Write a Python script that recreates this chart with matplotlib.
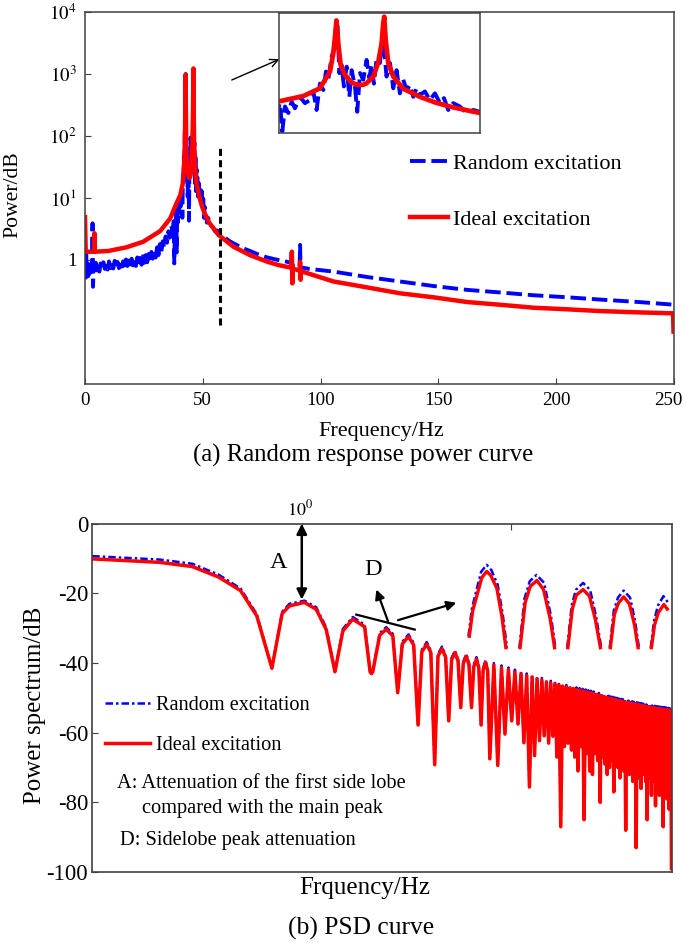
import numpy as np
import matplotlib
matplotlib.use('Agg')
import matplotlib.pyplot as plt
import matplotlib.transforms as mtransforms
from matplotlib.ticker import NullLocator

plt.rcParams['font.family'] = ['Liberation Serif', 'DejaVu Serif']
plt.rcParams['mathtext.fontset'] = 'stix'

# ===================== (a) Random response power curve =====================
ideal_freq = [0.0, 0.3, 3.9, 4.0, 4.1, 10.0, 17.5, 24.7, 31.9, 36.2, 38.7, 40.4, 41.55, 42.25,
              42.48, 42.6, 42.7, 42.83, 42.99, 43.29, 43.76, 44.22, 44.57, 44.8, 45.27, 45.6,
              45.85, 45.96, 46.03, 46.13, 46.31, 46.66, 47.35, 48.51, 49.67, 50.83, 52.7, 56.7,
              63.0, 70.0, 77.3, 82.0, 87.6, 87.8, 88.0, 88.2, 91.1, 91.3, 91.5, 91.7, 105.5,
              120.0, 133.8, 148.0, 162.1, 176.0, 190.4, 205.0, 218.7, 235.0, 249.6, 249.8]
ideal_power = [4.9, 1.36, 1.36, 2.7, 1.36, 1.40, 1.6, 1.97, 2.93, 4.7, 8.0, 11.0, 17.4, 47.0,
               138.0, 370.0, 980.0, 250.0, 70.0, 38.0, 24.5, 21.0, 21.5, 23.5, 35.0, 78.0,
               250.0, 830.0, 1230.0, 310.0, 78.0, 35.0, 17.0, 10.5, 7.3, 5.6, 4.0, 2.53,
               1.64, 1.2, 0.94, 0.83, 0.75, 1.36, 0.42, 0.73, 0.67, 0.94, 0.48, 0.66, 0.45,
               0.36, 0.29, 0.25, 0.21, 0.19, 0.17, 0.16, 0.15, 0.143, 0.138, 0.07]

random_freq = [0.0, 0.2, 0.5, 0.8, 1.1, 1.4, 1.8, 2.2, 2.6, 3.0, 3.2, 3.4, 3.7, 4.1, 4.6, 5.1,
               5.6, 6.1, 6.6, 7.2, 7.8, 8.4, 9.0, 9.6, 10.2, 10.8, 11.4, 12.0, 12.6, 13.2, 13.8,
               14.4, 15.0, 15.6, 16.2, 16.8, 17.4, 18.0, 18.6, 19.2, 19.8, 20.4, 21.0, 21.6,
               22.2, 22.8, 23.4, 24.0, 24.6, 25.2, 25.8, 26.4, 27.0, 27.6, 28.2, 28.8, 29.4,
               30.0, 30.6, 31.2, 31.8, 32.4, 33.0, 33.6, 34.2, 34.8, 35.4, 36.0, 36.6, 37.2,
               37.6, 37.9, 38.2, 38.5, 38.77, 38.93, 39.12, 39.35, 39.58, 39.81, 40.16, 40.51,
               40.86, 41.09, 41.32, 41.55, 41.79, 41.97, 42.13, 42.37, 42.6, 42.76, 42.9, 43.06,
               43.22, 43.41, 43.6, 43.76, 43.99, 44.15, 44.34, 44.57, 44.8, 44.99, 45.15, 45.31,
               45.5, 45.73, 45.92, 46.19, 46.43, 46.66, 46.89, 47.12, 47.35, 47.59, 47.82,
               48.05, 48.28, 48.51, 48.86, 49.21, 49.56, 49.91, 50.19, 50.49, 50.83, 51.3,
               51.76, 52.23, 52.69, 53.5, 54.3, 55.2, 56.1, 57.0, 58.0, 59.0, 60.0, 61.5, 63.0,
               65.0, 67.0, 70.0, 73.0, 77.3, 81.0, 85.0, 87.6, 87.8, 88.0, 88.2, 91.1, 91.3,
               91.5, 91.7, 95.0, 105.5, 120.0, 133.8, 148.0, 162.1, 176.0, 190.4, 205.0,
               218.7, 235.0, 250.0]
random_power = [1.0, 0.47, 1.3, 0.6, 0.95, 0.55, 0.85, 0.62, 0.9, 0.7, 3.9, 0.37, 0.85, 0.62,
                0.9, 0.68, 0.82, 0.65, 0.88, 0.7, 0.92, 0.72, 0.86, 0.7, 0.95, 0.74, 0.9, 0.73,
                0.97, 0.76, 0.93, 0.74, 1.0, 0.78, 0.95, 0.76, 1.02, 0.8, 0.98, 0.78, 1.05,
                0.82, 1.02, 0.8, 1.1, 0.86, 1.08, 0.84, 1.15, 0.9, 1.2, 0.92, 1.25, 0.98, 1.35,
                1.05, 1.45, 1.1, 1.6, 1.2, 1.8, 1.35, 2.0, 1.6, 2.4, 1.9, 2.9, 2.3, 3.6, 2.9,
                4.2, 0.88, 4.5, 3.6, 7.2, 1.33, 5.9, 4.0, 7.9, 5.3, 10.5, 7.2, 8.7, 14.4, 4.8,
                23.0, 15.7, 47.0, 29.0, 115.0, 210.0, 1000.0, 43.0, 70.0, 19.5, 63.0, 10.5,
                51.0, 19.5, 4.3, 43.0, 29.0, 94.0, 32.0, 70.0, 23.0, 104.0, 78.0, 450.0, 35.0,
                78.0, 17.4, 51.0, 12.9, 29.0, 15.7, 21.0, 10.5, 17.4, 11.7, 14.4, 8.7, 12.9,
                7.2, 9.7, 4.8, 7.2, 5.9, 4.0, 4.8, 4.3, 3.6, 3.4, 2.9, 3.0, 2.7, 2.5, 2.3, 2.2,
                2.0, 1.86, 1.7, 1.55, 1.4, 1.25, 1.1, 1.02, 0.95, 0.9, 1.41, 0.54, 0.88, 0.8,
                1.75, 0.69, 0.76, 0.72, 0.65, 0.53, 0.45, 0.38, 0.33, 0.3, 0.27, 0.25, 0.23,
                0.21, 0.19]

cutoff_freq = 57.1
cutoff_power = [0.089, 66.0]
zoom_freq = [38.7, 52.7]
zoom_power = [1.2, 1500.0]
pointer_start = (62.3, 800.0)
pointer_end = (82.5, 1730.0)

a_xticks = [0, 50, 100, 150, 200, 250]
a_yticks = [1, 10, 100, 1000, 10000]
a_yticklabels = ['1', '$10^1$', '$10^2$', '$10^3$', '$10^4$']

# ===================== (b) PSD curve =====================
main_lobe_freq = [0.1, 0.21, 0.30, 0.40, 0.51, 0.61]
main_lobe_ideal = [-10.1, -11.1, -12.3, -15.3, -19.2, -26.5]
main_lobe_random = [-9.3, -10.3, -11.5, -14.6, -18.6, -26.0]

null_freq = [0.72, 1.44, 2.15, 2.87, 3.59, 4.31, 5.03, 5.74, 6.46, 7.18, 7.90, 8.62, 9.33,
             10.05, 10.77, 11.49, 12.21, 12.92, 13.64, 14.36, 15.08, 15.80, 16.51, 17.23,
             17.95, 18.67, 19.39, 20.10, 20.82, 21.54, 22.26, 22.98, 23.69, 24.41, 25.13,
             25.85, 26.57, 27.28, 28.00, 28.72, 29.44, 30.16, 30.87, 31.59, 32.31, 33.03,
             33.75, 34.46, 35.18, 35.90, 36.62, 37.34, 38.05, 38.77, 39.49, 40.21, 40.93,
             41.64, 42.36, 43.08, 43.80, 44.52, 45.23, 45.95, 46.67, 47.39, 48.11, 48.82,
             49.54, 50.26, 50.98, 51.70, 52.41, 53.13, 53.85, 54.57, 55.29, 56.00, 56.72,
             57.44, 58.16]
null_db = [-41.5, -42.5, -43.0, -48.5, -57.8, -69.2, -56.6, -52.8, -52.8, -57.8, -67.5, -69.4,
           -60.4, -56.6, -57.5, -62.9, -75.6, -66.6, -62.3, -60.9, -63.0, -61.0, -67.0, -87.0,
           -64.0, -63.0, -65.0, -67.0, -71.0, -64.0, -85.0, -66.0, -71.0, -72.0, -66.0, -68.0,
           -80.0, -67.0, -69.0, -72.0, -70.0, -68.0, -77.0, -69.0, -70.0, -73.0, -68.0, -71.0,
           -88.0, -70.0, -72.0, -69.0, -74.0, -71.0, -93.0, -70.0, -73.0, -76.0, -71.0, -72.0,
           -74.0, -85.0, -71.0, -73.0, -78.0, -72.0, -74.0, -81.0, -72.0, -75.0, -78.0, -73.0,
           -74.0, -87.0, -73.0, -76.0, -79.0, -74.0, -82.0, -75.0, -99.0]

peak_freq = [1.03, 1.75, 2.53, 3.23, 3.95, 4.67, 5.39, 6.10, 6.82, 7.54, 8.26, 8.98, 9.69,
             10.41, 11.13, 11.85, 12.57, 13.28, 14.00, 14.72, 15.44, 16.16, 16.87, 17.59,
             18.31, 19.03, 19.75, 20.46, 21.18, 21.90, 22.62, 23.34, 24.05, 24.77, 25.49,
             26.21, 26.93, 27.64, 28.36, 29.08, 29.80, 30.52, 31.23, 31.95, 32.67, 33.39,
             34.11, 34.82, 35.54, 36.26, 36.98, 37.70, 38.41, 39.13, 39.85, 40.57, 41.29,
             42.00, 42.72, 43.44, 44.16, 44.88, 45.59, 46.31, 47.03, 47.75, 48.47, 49.18,
             49.90, 50.62, 51.34, 52.06, 52.77, 53.49, 54.21, 54.93, 55.65, 56.36, 57.08, 57.80]
peak_ideal = [-22.6, -27.4, -30.3, -32.4, -34.6, -35.9, -37.0, -38.0, -38.9, -39.8, -40.6,
              -41.3, -41.9, -42.5, -43.1, -43.6, -44.0, -44.5, -44.9, -45.4, -45.7, -46.0,
              -46.3, -46.6, -46.9, -47.1, -47.3, -47.6, -47.8, -48.0, -48.2, -48.4, -48.6,
              -48.8, -49.0, -49.2, -49.4, -49.6, -49.8, -50.0, -50.2, -50.3, -50.5, -50.6,
              -50.8, -50.9, -51.0, -51.2, -51.3, -51.4, -51.5, -51.6, -51.7, -51.8, -51.9,
              -52.0, -52.1, -52.2, -52.3, -52.4, -52.5, -52.6, -52.6, -52.7, -52.8, -52.9,
              -52.9, -53.0, -53.1, -53.1, -53.2, -53.2, -53.3, -53.3, -53.4, -53.4, -53.5,
              -53.5, -53.6, -53.6]
peak_random = [-22.1, -26.8, -29.7, -31.8, -34.0, -35.3, -36.4, -37.4, -38.3, -39.2, -40.0,
               -40.7, -41.3, -41.9, -42.5, -43.0, -43.4, -43.9, -44.3, -44.8, -45.1, -45.4,
               -45.7, -46.0, -46.3, -46.5, -46.7, -47.0, -47.2, -47.4, -47.6, -47.8, -48.0,
               -48.2, -48.4, -48.6, -48.8, -49.0, -49.2, -49.4, -49.6, -49.7, -49.9, -50.0,
               -50.2, -50.3, -50.4, -50.6, -50.7, -50.8, -50.9, -51.0, -51.1, -51.2, -51.3,
               -51.4, -51.5, -51.6, -51.7, -51.8, -51.9, -52.0, -52.0, -52.1, -52.2, -52.3,
               -52.3, -52.4, -52.5, -52.5, -52.6, -52.6, -52.7, -52.7, -52.8, -52.8, -52.9,
               -52.9, -53.0, -53.0]

shoulder_freq = [0.806, 0.873, 1.172, 1.308, 1.571, 1.995, 2.12, 2.18, 2.356, 2.72, 3.02,
                 3.42, 3.74, 4.13, 4.47, 4.86, 5.19, 5.57, 5.90, 6.28, 6.62, 7.00, 7.34, 7.72]
shoulder_ideal = [-25.8, -23.6, -24.6, -30.4, -30.8, -29.6, -42.6, -42.6, -32.0, -32.2, -34.5,
                  -34.8, -36.8, -37.0, -38.0, -38.3, -39.1, -39.4, -40.2, -40.5, -41.1, -41.4,
                  -42.0, -42.3]
shoulder_random = [-25.3, -23.0, -24.0, -29.8, -30.2, -29.0, -42.4, -42.4, -31.4, -31.6,
                   -33.9, -34.2, -36.2, -36.4, -37.4, -37.7, -38.5, -38.8, -39.6, -39.9,
                   -40.5, -40.8, -41.4, -41.7]

# zoomed sidelobes drawn in the upper right of (b) (zoom-axis units)
zlobe_ideal_x = [[4.4, 6.0, 7.9, 10.3, 12.6, 14.5, 17.4, 19.8, 21.7],
                 [28.4, 30.8, 33.2, 36.4, 39.5, 42.7, 44.7],
                 [51.0, 53.1, 55.0, 58.2, 61.2, 64.0, 66.4],
                 [71.1, 73.0, 74.9, 77.4, 80.1, 82.5, 84.2],
                 [90.5, 92.0, 93.8, 96.4, 98.0]]
zlobe_ideal_db = [[-32.3, -25.0, -20.8, -15.5, -13.7, -14.8, -18.5, -26.6, -35.6],
                  [-35.6, -22.7, -18.0, -16.3, -18.9, -27.5, -35.6],
                  [-35.6, -24.5, -20.5, -18.9, -20.8, -27.5, -35.6],
                  [-35.6, -26.0, -22.8, -21.0, -23.0, -29.0, -35.6],
                  [-35.6, -29.0, -25.5, -23.2, -24.5]]
zlobe_random_x = [[4.0, 5.6, 7.6, 10.0, 12.6, 14.8, 17.8, 20.2, 22.2],
                  [28.1, 30.5, 33.0, 36.2, 39.8, 43.0, 45.1],
                  [50.7, 52.8, 54.8, 58.2, 61.5, 64.3, 66.8],
                  [70.8, 72.7, 74.7, 77.4, 80.4, 82.8, 84.6],
                  [90.2, 91.7, 93.6, 96.2, 98.2]]
zlobe_random_db = [[-32.3, -24.5, -19.5, -13.8, -11.8, -13.3, -17.5, -26.0, -35.6],
                   [-35.6, -21.5, -16.5, -14.7, -17.0, -26.5, -35.6],
                   [-35.6, -23.5, -19.0, -17.0, -19.0, -26.5, -35.6],
                   [-35.6, -25.0, -21.2, -19.2, -21.2, -28.0, -35.6],
                   [-35.6, -28.0, -23.5, -20.8, -22.5]]

arrowA_freq, arrowA_db = 1.0, (0.0, -21.8)
tangent_freq = [1.82, 3.46]
tangent_db = [-26.1, -30.4]
arrowD_up = ((2.58, -28.0), (2.27, -18.9))
arrowD_right = ((2.88, -27.7), (5.47, -22.7))

b_yticks = [0, -20, -40, -60, -80, -100]
b_yticklabels = ['0', '-20', '-40', '-60', '-80', '-100']

# ===================== drawing =====================
W, H = 685, 943
fig = plt.figure(figsize=(W / 100, H / 100), dpi=100)


def box(l, t, r, b):
    return [l / W, 1 - b / H, (r - l) / W, (b - t) / H]


def fx(p):
    return p / W


def fy(p):
    return 1 - p / H


BLUE = '#0000ff'
RED = '#ff0000'
FRAME = '#404040'

# ---- (a) ----
ax = fig.add_axes(box(85, 12, 674, 384))
ax.set_yscale('log')
ax.plot(random_freq, random_power, color=BLUE, lw=2.8, ls=(0, (4, 1.5)),
        label='Random excitation')
ax.plot(ideal_freq, ideal_power, color=RED, lw=3.2, label='Ideal excitation')
ax.vlines(cutoff_freq, cutoff_power[0], cutoff_power[1], colors='k',
          linestyles=(0, (2.3, 1.4)), lw=2.2)
ax.set_xlim(0, 250)
ax.set_ylim(1e-2, 1e4)
ax.set_xticks(a_xticks)
ax.set_yticks(a_yticks)
ax.set_yticklabels(a_yticklabels)
ax.yaxis.set_minor_locator(NullLocator())
ax.tick_params(direction='in', length=4, width=0.8, labelsize=13.6, pad=6, color=FRAME)
for s in ax.spines.values():
    s.set_color(FRAME)
    s.set_linewidth(1.1)
# nudge the last x tick label so that it stays inside the figure
last = ax.get_xticklabels()[-1]
last.set_transform(last.get_transform() +
                   mtransforms.ScaledTranslation(-4 / 72, 0, fig.dpi_scale_trans))
ax.legend(loc='upper left', bbox_to_anchor=((410 - 85) / 589, (384 - 153) / 372),
          frameon=False, fontsize=16, handlelength=1.7, handletextpad=0.25,
          labelspacing=1.62, borderpad=0, borderaxespad=0)
ax.annotate('', xy=pointer_end, xytext=pointer_start,
            arrowprops=dict(arrowstyle='->', color='k', lw=1.0, mutation_scale=14,
                            shrinkA=0, shrinkB=0))

axz = fig.add_axes(box(279, 13.3, 480, 133.3))
axz.set_yscale('log')
axz.plot(random_freq, random_power, color=BLUE, lw=2.8, ls=(0, (4, 1.5)))
axz.plot(ideal_freq, ideal_power, color=RED, lw=3.4)
axz.set_xlim(*zoom_freq)
axz.set_ylim(*zoom_power)
axz.set_xticks([])
axz.set_yticks([])
axz.yaxis.set_minor_locator(NullLocator())
for s in axz.spines.values():
    s.set_color(FRAME)
    s.set_linewidth(1.1)

fig.text(fx(13.3), fy(195), 'Power/dB', rotation=90, ha='center', va='center', fontsize=15.6)
fig.text(fx(381), fy(431.7), 'Frequency/Hz', ha='center', va='center', fontsize=16)
fig.text(fx(363), fy(455), '(a) Random response power curve', ha='center', va='center',
         fontsize=17.8)

# ---- (b) ----
bx = fig.add_axes(box(92.3, 523.7, 671.5, 872))
bx.set_xscale('log')
fr = np.concatenate([main_lobe_freq, null_freq, peak_freq, shoulder_freq])
yr = np.concatenate([main_lobe_ideal, null_db, peak_ideal, shoulder_ideal])
o = np.argsort(fr)
fb = np.concatenate([main_lobe_freq, null_freq, peak_freq, shoulder_freq])
yb = np.concatenate([main_lobe_random, null_db, peak_random, shoulder_random])
ob = np.argsort(fb)
bx.plot(fb[ob], yb[ob], color=BLUE, lw=1.8, ls=(0, (3, 1.2, 1, 1.2)),
        label='Random excitation')
bx.plot(fr[o], yr[o], color=RED, lw=2.5, label='Ideal excitation')
bx.set_xlim(0.1, 58.2)
bx.set_ylim(-100, 0)
bx.set_yticks(b_yticks)
bx.set_yticklabels(b_yticklabels)
bx.set_xticks([1, 10])
bx.xaxis.set_minor_locator(NullLocator())
bx.tick_params(axis='x', which='both', bottom=False, top=True, labelbottom=False,
               labeltop=False, direction='in', length=4, color=FRAME)
bx.tick_params(axis='y', direction='in', length=4, labelsize=16.4, pad=3, color=FRAME)
for s in bx.spines.values():
    s.set_color(FRAME)
    s.set_linewidth(1.2)
bx.legend(loc='upper left', bbox_to_anchor=(0.022, (872 - 695.5) / 348.3), frameon=False,
          fontsize=14.6, handlelength=2.2, handletextpad=0.3, labelspacing=1.03,
          borderpad=0, borderaxespad=0)

bx.annotate('', xy=(arrowA_freq, arrowA_db[1]), xytext=(arrowA_freq, arrowA_db[0]),
            arrowprops=dict(arrowstyle='<|-|>', color='k', lw=1.8, mutation_scale=15,
                            shrinkA=0, shrinkB=0))
bx.plot(tangent_freq, tangent_db, color='k', lw=1.6)
for start, end in (arrowD_up, arrowD_right):
    bx.annotate('', xy=end, xytext=start,
                arrowprops=dict(arrowstyle='-|>', color='k', lw=1.6, mutation_scale=14,
                                shrinkA=0, shrinkB=0))
bx.text(0.774, -11.2, 'A', ha='center', va='center', fontsize=17.5)
bx.text(2.18, -13.2, 'D', ha='center', va='center', fontsize=17.5)
bx.annotate('$10^0$', xy=(1, 1), xycoords=('data', 'axes fraction'), xytext=(-1.5, 3),
            textcoords='offset points', ha='center', va='bottom', fontsize=13)

bz = fig.add_axes(box(460, 523.7, 671.5, 872))
bz.set_xlim(0, 100)
bz.set_ylim(-100, 0)
bz.axis('off')
for xs, ys in zip(zlobe_random_x, zlobe_random_db):
    bz.plot(xs, ys, color=BLUE, lw=1.8, ls=(0, (3, 1.2, 1, 1.2)))
for xs, ys in zip(zlobe_ideal_x, zlobe_ideal_db):
    bz.plot(xs, ys, color=RED, lw=2.4)

fig.text(fx(116.7), fy(784), 'A: Attenuation of the first side lobe', ha='left',
         va='center', fontsize=14.7)
fig.text(fx(141.7), fy(808.3), 'compared with the main peak', ha='left', va='center',
         fontsize=14.7)
fig.text(fx(120), fy(840), 'D: Sidelobe peak attenuation', ha='left', va='center',
         fontsize=14.7)
fig.text(fx(35), fy(705), 'Power spectrum/dB', rotation=90, ha='center', va='center',
         fontsize=17.9)
fig.text(fx(365), fy(888.3), 'Frquency/Hz', ha='center', va='center', fontsize=18)
fig.text(fx(361), fy(928.3), '(b) PSD curve', ha='center', va='center', fontsize=18.4)

fig.savefig('out.png', dpi=100)
